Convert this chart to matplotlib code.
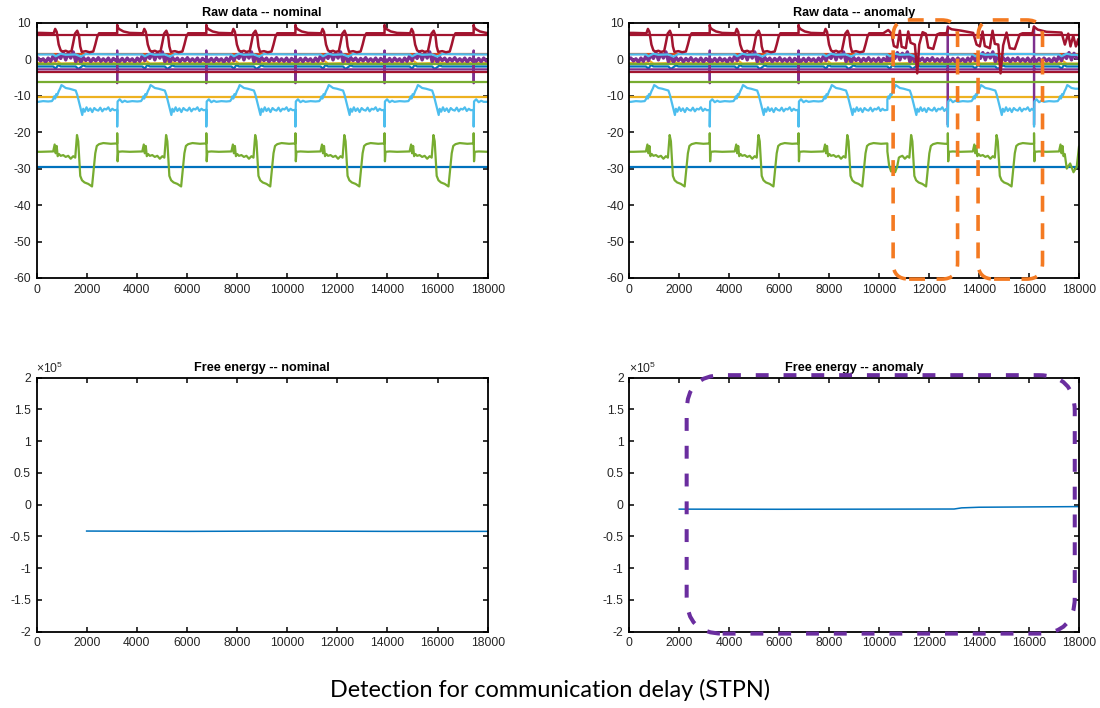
import numpy as np
import matplotlib
matplotlib.use("Agg")
import matplotlib.pyplot as plt
from matplotlib.patches import FancyBboxPatch
from matplotlib.ticker import FuncFormatter, MultipleLocator

# ---------------- data ----------------
X_MAX = 18000
# cycle anchors (spike times), window starts
NOM_T0 = [-335, 3220, 6775, 10330, 13885, 17440]
NOM_START = [0, 3220, 6775, 10330, 13885, 17440]
ANOM_T0 = [-335, 3220, 6775, 9330, 12750, 16200]
ANOM_START = [0, 3220, 6775, 10330, 12750, 16200]

# dark red trace, one cycle (offset from spike, value)
RED_DX = [0, 20, 90, 250, 500, 1020, 1080, 1140, 1220, 1300, 1380, 1500, 1600, 1730,
          1800, 1870, 1960, 2030, 2080, 2140, 2300, 2450, 2600, 2680, 2760, 2830, 3540]
RED_Y = [9.4, 8.7, 8.2, 7.6, 7.2, 7.1, 8.3, 7.5, 4.0, 2.4, 2.1, 2.3, 2.0, 2.2,
         4.5, 7.0, 7.8, 6.5, 3.5, 2.0, 2.2, 1.9, 2.1, 4.0, 6.2, 7.1, 7.1]
# dark red trace in the anomaly run after 10165
RED_ANOM_X = [10165, 10365, 10500, 10590, 10725, 10830, 10900, 11070, 11165, 11260,
              11430, 11525, 11605, 11740, 11870, 11965, 12165, 12325, 12430, 12700,
              12765, 12900, 13300, 13765, 13900, 14030, 14140, 14230, 14430, 14540,
              14630, 14770, 14860, 14965, 15100, 15230, 15430, 15630, 15740, 16140,
              16195, 16350, 16700, 17300, 17435, 17570, 17660, 17770, 17875, 17970,
              18000]
RED_ANOM_Y = [7.1, 8.0, 7.0, 3.6, 3.2, 7.8, 3.4, 3.0, 7.6, 4.5,
              4.0, -3.9, 4.0, 7.4, 7.0, 3.2, 2.8, 6.8, 7.1, 7.1,
              8.7, 8.2, 7.8, 7.2, 4.0, 3.5, 7.6, 3.6, 3.0, 7.8,
              4.2, 4.0, -3.9, 3.8, 7.3, 3.0, 2.8, 6.8, 7.1, 7.1,
              8.9, 8.1, 7.5, 7.3, 4.0, 7.0, 3.5, 6.5, 3.5, 5.5,
              4.0]

# light blue trace, one cycle
LB_DX = [0, 15, 100, 200, 300, 400, 600, 800, 950, 1000, 1040, 1080, 1120, 1160, 1220,
         1280, 1330, 1400, 1500, 1650, 1800, 1900, 1960, 2040, 2110, 2160, 2200, 2260,
         2330, 2400, 2480, 2560, 2640, 2720, 2800, 2880, 2960, 3040, 3120, 3200, 3280,
         3360, 3440, 3540]
LB_Y = [-18.5, -11.6, -11.0, -11.8, -11.4, -11.7, -11.5, -11.6, -11.5, -11.0, -10.2,
        -10.8, -9.6, -9.9, -8.8, -8.0, -7.1, -7.4, -7.9, -8.1, -8.4, -8.6, -9.8, -12.0,
        -13.9, -15.3, -13.6, -14.4, -13.2, -14.2, -13.5, -14.5, -13.4, -13.9, -14.1,
        -13.3, -14.3, -13.6, -13.8, -13.2, -14.2, -13.6, -14.0, -13.9]

# green trace, one cycle
G_DX = [0, 15, 40, 200, 500, 1000, 1060, 1100, 1140, 1180, 1230, 1300, 1400, 1500, 1600,
        1700, 1800, 1880, 1950, 2000, 2080, 2150, 2250, 2400, 2550, 2620, 2680, 2740,
        2830, 3000, 3300, 3540]
G_Y = [-20.3, -28.0, -25.4, -25.3, -25.4, -25.3, -23.4, -25.8, -23.8, -26.6, -26.0,
       -26.5, -26.3, -26.8, -26.5, -27.3, -26.6, -27.0, -20.8, -22.5, -32.0, -33.2,
       -33.8, -34.2, -34.9, -30.0, -25.8, -23.8, -23.3, -23.0, -23.2, -23.1]
# green trace in the anomaly run: windows replaced by the wiggles
G_ANOM_WIN_LO = [10360, 17450]
G_ANOM_WIN_HI = [10820, 18001]
G_ANOM_X = [10400, 10480, 10560, 10640, 10720, 10790,
            17510, 17645, 17780, 17910, 18000]
G_ANOM_Y = [-29.2, -30.8, -29.0, -31.0, -29.5, -27.0,
            -30.0, -28.6, -31.0, -29.5, -24.0]

# small signals near zero, one cycle
PURPLE_DX = [0, 100, 200, 300, 400, 500, 600, 700, 800, 900, 1000, 1100, 1200, 1300,
             1400, 1500, 1600, 1700, 1800, 1900, 2000, 2100, 2200, 2300, 2400, 2500,
             2600, 2700, 2800, 2900, 3000, 3100, 3200, 3300, 3400, 3500]
PURPLE_Y = [0.1, -0.6, 0.2, -0.7, 0.3, -0.5, 0.1, -0.8, 0.3, -0.6, 0.9, -0.4, 1.2, 0.2,
            1.8, -0.2, 1.6, 0.3, 2.0, -0.7, 1.1, -0.9, 0.5, -0.4, 0.3, -0.7, 0.2, -0.5,
            0.4, -0.6, 0.1, -0.6, 0.3, -0.8, 0.2, -0.4]
BLUE_DX = [0, 1000, 1100, 1200, 1300, 1900, 2000, 2100, 2200, 2300, 3540]
BLUE_Y = [-2.0, -2.0, -2.6, -1.6, -2.0, -2.0, -2.7, -2.2, -1.7, -2.0, -2.0]
CYAN_DX = [0, 1000, 1100, 1300, 1500, 1900, 2100, 2300, 3540]
CYAN_Y = [1.3, 1.3, 0.8, 1.5, 1.2, 1.3, 0.7, 1.4, 1.3]
YELLOW_DX = [0, 1000, 1150, 1300, 1900, 2050, 2250, 3540]
YELLOW_Y = [-1.1, -1.1, -0.5, -1.2, -1.1, -0.4, -1.1, -1.1]

# purple step line with spikes
PURPLE_LEVEL = -2.8
SPIKE_NOM_X = [3220, 6775, 10330, 13885, 17440]
SPIKE_NOM_TOP = [2.4, 2.4, 2.4, 2.4, 2.4]
SPIKE_NOM_BOT = [-6.6, -6.6, -6.6, -6.6, -6.6]
SPIKE_ANOM_X = [3220, 6775, 12750, 16200]
SPIKE_ANOM_TOP = [2.4, 2.4, 9.0, 9.0]
SPIKE_ANOM_BOT = [-6.6, -6.6, -18.0, -18.0]

# constant channels
HLINE_VALUES = [-29.7, 1.4, -10.3, -1.4, -6.2, 6.5, -3.4]
HLINE_COLORS = ["#0072BD", "#D95319", "#EDB120", "#77AC30", "#77AC30", "#A2142F", "#A2142F"]

# free energy
FE_NOM_X = [2000, 6000, 10000, 14000, 18000]
FE_NOM_Y = [-0.415e5, -0.42e5, -0.415e5, -0.42e5, -0.42e5]
FE_ANOM_X = [2000, 6000, 10000, 13000, 13300, 14000, 16000, 18000]
FE_ANOM_Y = [-0.07e5, -0.072e5, -0.07e5, -0.068e5, -0.05e5, -0.04e5, -0.035e5, -0.03e5]

# ---------------- helpers ----------------
def build(t0s, starts, tdx, ty):
    xs, ys = [], []
    ends = list(starts[1:]) + [X_MAX]
    for t0, s, e in zip(t0s, starts, ends):
        px = [t0 + d for d in tdx if s <= t0 + d < e]
        py = [v for d, v in zip(tdx, ty) if s <= t0 + d < e]
        if not px:
            continue
        if px[0] > s:
            first = py[0]
            px.insert(0, s)
            py.insert(0, first)
        if px[-1] < e - 1:
            px.append(e - 1)
            py.append(py[-1])
        xs += px
        ys += py
    return np.array(xs, float), np.array(ys, float)


def spikes(xs, tops, bots):
    px, py = [0], [PURPLE_LEVEL]
    for x, t, b in zip(xs, tops, bots):
        px += [x - 1, x, x, x + 1]
        py += [PURPLE_LEVEL, t, b, PURPLE_LEVEL]
    px.append(X_MAX)
    py.append(PURPLE_LEVEL)
    return px, py


C_BLUE, C_ORANGE, C_YELLOW, C_PURPLE = "#0072BD", "#D95319", "#EDB120", "#7E2F8E"
C_GREEN, C_LBLUE, C_RED = "#77AC30", "#4DBEEE", "#A2142F"

plt.rcParams["font.family"] = ["Liberation Sans", "DejaVu Sans"]
plt.rcParams["mathtext.fontset"] = "custom"
plt.rcParams["mathtext.rm"] = "Liberation Sans"
plt.rcParams["axes.unicode_minus"] = False

W, H = 1100, 708
fig = plt.figure(figsize=(W / 100, H / 100), dpi=100)

L1, L2 = 36.5, 629.3
AW1, AW2 = 451.2, 449.7
TOP_T, TOP_B = 22.7, 278.0
BOT_T, BOT_B = 377.7, 631.7


def add_ax(left, width, top, bottom):
    return fig.add_axes([left / W, 1 - bottom / H, width / W, (bottom - top) / H])


ax1 = add_ax(L1, AW1, TOP_T, TOP_B)
ax2 = add_ax(L2, AW2, TOP_T, TOP_B)
ax3 = add_ax(L1, AW1, BOT_T, BOT_B)
ax4 = add_ax(L2, AW2, BOT_T, BOT_B)

LW = 1.6


def style(ax, ylim, ystep, fmt):
    ax.set_xlim(0, X_MAX)
    ax.set_ylim(*ylim)
    ax.xaxis.set_major_locator(MultipleLocator(2000))
    ax.yaxis.set_major_locator(MultipleLocator(ystep))
    ax.xaxis.set_major_formatter(FuncFormatter(lambda v, p: "%d" % round(v)))
    ax.yaxis.set_major_formatter(FuncFormatter(fmt))
    ax.tick_params(direction="in", top=True, right=True, length=3.5, width=1.1,
                   labelsize=8.7, color="black", labelcolor="#262626", pad=4)
    for s in ax.spines.values():
        s.set_linewidth(1.3)
        s.set_color("black")


def raw_panel(ax, t0s, starts, anomaly):
    # blue channels
    ax.plot([0, X_MAX], [HLINE_VALUES[0]] * 2, color=HLINE_COLORS[0], lw=LW)
    bx, by = build(t0s, starts, BLUE_DX, BLUE_Y)
    ax.plot(bx, by, color=C_BLUE, lw=LW)
    # orange / yellow
    ax.plot([0, X_MAX], [HLINE_VALUES[1]] * 2, color=HLINE_COLORS[1], lw=LW)
    ax.plot([0, X_MAX], [HLINE_VALUES[2]] * 2, color=HLINE_COLORS[2], lw=LW)
    yx, yy = build(t0s, starts, YELLOW_DX, YELLOW_Y)
    ax.plot(yx, yy, color=C_YELLOW, lw=LW)
    # purple
    px, py = build(t0s, starts, PURPLE_DX, PURPLE_Y)
    ax.plot(px, py, color=C_PURPLE, lw=2.4)
    if anomaly:
        sx, sy = spikes(SPIKE_ANOM_X, SPIKE_ANOM_TOP, SPIKE_ANOM_BOT)
    else:
        sx, sy = spikes(SPIKE_NOM_X, SPIKE_NOM_TOP, SPIKE_NOM_BOT)
    ax.plot(sx, sy, color=C_PURPLE, lw=LW)
    # green
    ax.plot([0, X_MAX], [HLINE_VALUES[3]] * 2, color=HLINE_COLORS[3], lw=LW)
    ax.plot([0, X_MAX], [HLINE_VALUES[4]] * 2, color=HLINE_COLORS[4], lw=LW)
    gx, gy = build(t0s, starts, G_DX, G_Y)
    if anomaly:
        keep = np.ones(len(gx), bool)
        for lo, hi in zip(G_ANOM_WIN_LO, G_ANOM_WIN_HI):
            keep &= ~((gx >= lo) & (gx < hi))
        gx = np.concatenate([gx[keep], G_ANOM_X])
        gy = np.concatenate([gy[keep], G_ANOM_Y])
        order = np.argsort(gx, kind="stable")
        gx, gy = gx[order], gy[order]
    ax.plot(gx, gy, color=C_GREEN, lw=LW)
    # light blue
    cx, cy = build(t0s, starts, CYAN_DX, CYAN_Y)
    ax.plot(cx, cy, color=C_LBLUE, lw=LW)
    lx, ly = build(t0s, starts, LB_DX, LB_Y)
    ax.plot(lx, ly, color=C_LBLUE, lw=LW)
    # dark red
    ax.plot([0, X_MAX], [HLINE_VALUES[5]] * 2, color=HLINE_COLORS[5], lw=LW)
    ax.plot([0, X_MAX], [HLINE_VALUES[6]] * 2, color=HLINE_COLORS[6], lw=LW)
    rx, ry = build(t0s, starts, RED_DX, RED_Y)
    if anomaly:
        keep = rx < RED_ANOM_X[0]
        rx = np.concatenate([rx[keep], RED_ANOM_X])
        ry = np.concatenate([ry[keep], RED_ANOM_Y])
    ax.plot(rx, ry, color=C_RED, lw=1.8)


raw_panel(ax1, NOM_T0, NOM_START, False)
raw_panel(ax2, ANOM_T0, ANOM_START, True)
ax3.plot(FE_NOM_X, FE_NOM_Y, color=C_BLUE, lw=1.1)
ax4.plot(FE_ANOM_X, FE_ANOM_Y, color=C_BLUE, lw=1.1)

for ax in (ax1, ax2):
    style(ax, (-60, 10), 10, lambda v, p: "%d" % round(v))
for ax in (ax3, ax4):
    style(ax, (-2e5, 2e5), 0.5e5, lambda v, p: "%g" % (v / 1e5))
    ax.text(0.0, 1.005, r"$\times\mathregular{10^{5}}$", transform=ax.transAxes,
            ha="left", va="bottom", fontsize=8.7, color="#262626")

titles = ["Raw data -- nominal", "Raw data -- anomaly", "Free energy -- nominal",
          "Free energy -- anomaly"]
for ax, t in zip((ax1, ax2, ax3, ax4), titles):
    ax.set_title(t, fontsize=9.1, fontweight="bold", pad=4.5)


# ---------------- annotation boxes ----------------
def rounded_box(ax, x0, x1, y0, y1, r_px, color, lw, dash, ylim_span, w_px, h_px):
    xpp = X_MAX / w_px
    ypp = ylim_span / h_px
    p = FancyBboxPatch((x0, y0), x1 - x0, y1 - y0,
                       boxstyle="round,pad=0,rounding_size=%f" % (r_px * xpp),
                       mutation_aspect=ypp / xpp, fill=False, edgecolor=color,
                       linewidth=lw, linestyle=(0, dash), clip_on=False, zorder=10)
    ax.add_patch(p)


C_BOX_OR = "#F47A22"
C_BOX_PU = "#6A2D9F"
rounded_box(ax2, 10560, 13140, -60.3, 10.75, 16, C_BOX_OR, 2.6, (4.4, 3.2),
            70, AW2, TOP_B - TOP_T)
rounded_box(ax2, 13960, 16540, -60.3, 10.75, 16, C_BOX_OR, 2.6, (4.4, 3.2),
            70, AW2, TOP_B - TOP_T)
rounded_box(ax4, 2296, 17830, -2.03e5, 2.04e5, 36, C_BOX_PU, 2.9, (3.2, 3.7),
            4e5, AW2, BOT_B - BOT_T)

fig.text(0.5, 1 - 690 / H, "Detection for communication delay (STPN)", ha="center",
         va="center", fontsize=16.8, family=["Lato", "DejaVu Sans"])

fig.savefig("out.png", dpi=100)
